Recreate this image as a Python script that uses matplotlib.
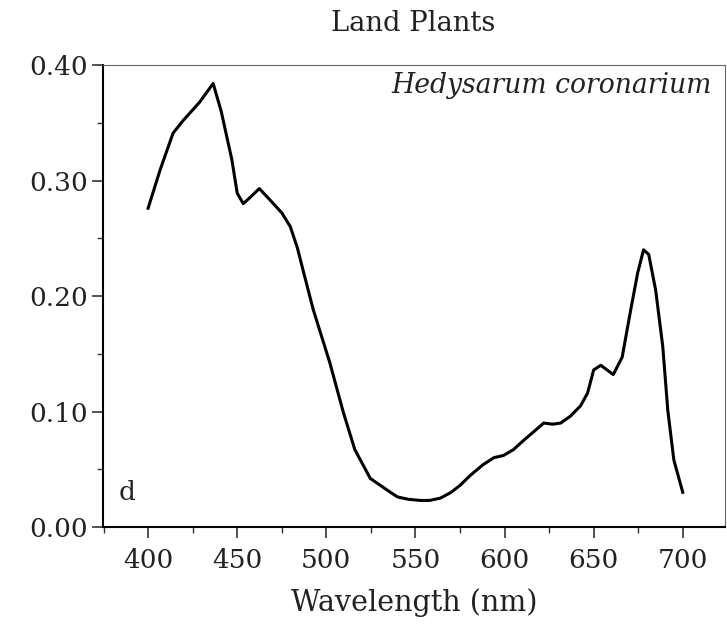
import numpy as np
import matplotlib
matplotlib.use("Agg")
from matplotlib import pyplot as plt
from matplotlib.ticker import MultipleLocator

# absorption spectrum
wavelength = [400, 406.7, 414, 419.7, 429, 436.5, 441, 447, 450, 453.4, 457, 462.4, 468.5,
              475, 479.8, 483.7, 487, 492.7, 502, 509.6, 516, 524.7, 536, 540, 546, 552.8,
              558, 564, 570, 575, 581, 588, 594, 599.5, 605, 610.7, 616, 622, 627, 631.5,
              637, 642.7, 646.6, 650, 654, 661, 666, 670.8, 674.7, 678, 680.9, 684.8,
              688.8, 691.6, 695, 700]
absorbance = [0.276, 0.309, 0.341, 0.352, 0.368, 0.384, 0.360, 0.318, 0.289, 0.280, 0.285,
              0.293, 0.283, 0.272, 0.260, 0.242, 0.222, 0.188, 0.142, 0.099, 0.067, 0.042,
              0.030, 0.026, 0.024, 0.023, 0.023, 0.025, 0.030, 0.036, 0.045, 0.054, 0.060,
              0.062, 0.067, 0.075, 0.082, 0.090, 0.089, 0.090, 0.096, 0.105, 0.116, 0.136,
              0.140, 0.132, 0.147, 0.188, 0.220, 0.240, 0.236, 0.205, 0.156, 0.101, 0.058,
              0.030]

xticks = [400, 450, 500, 550, 600, 650, 700]
yticks = [0.00, 0.10, 0.20, 0.30, 0.40]

plt.rcParams['font.family'] = ['DejaVu Serif']

fig = plt.figure(figsize=(7.27, 6.25), dpi=100)
ax = fig.add_axes([0.1417, 0.1568, 0.8553, 0.7392])

ax.plot(wavelength, absorbance, color='black', lw=2.2)

ax.set_xlim(374.7, 723.6)
ax.set_ylim(0, 0.40)
ax.set_xticks(xticks)
ax.set_yticks(yticks)
ax.set_yticklabels(['{:.2f}'.format(v) for v in yticks])
ax.xaxis.set_minor_locator(MultipleLocator(25))
ax.yaxis.set_minor_locator(MultipleLocator(0.05))
ax.tick_params(which='major', direction='out', length=8, width=1.2, labelsize=19,
               color='#333333', labelcolor='#222222')
ax.tick_params(which='minor', direction='out', length=4, width=1.0, color='#333333')
ax.tick_params(axis='x', pad=7)
ax.tick_params(axis='y', pad=3)

for side in ['left', 'bottom']:
    ax.spines[side].set_linewidth(1.5)
for side in ['top', 'right']:
    ax.spines[side].set_linewidth(0.8)
    ax.spines[side].set_color('#666666')

ax.text(0.979, 0.955, 'Hedysarum coronarium', transform=ax.transAxes, ha='right', va='center',
        style='italic', fontsize=19.2, color='#222222')
ax.text(0.025, 0.075, 'd', transform=ax.transAxes, ha='left', va='center', fontsize=19,
        color='#222222')

fig.text(0.568, 0.962, 'Land Plants', ha='center', va='center', fontsize=19.7, color='#222222')
fig.text(0.570, 0.036, 'Wavelength (nm)', ha='center', va='center', fontsize=20.6, color='#222222')

plt.savefig('out.png', dpi=100)
